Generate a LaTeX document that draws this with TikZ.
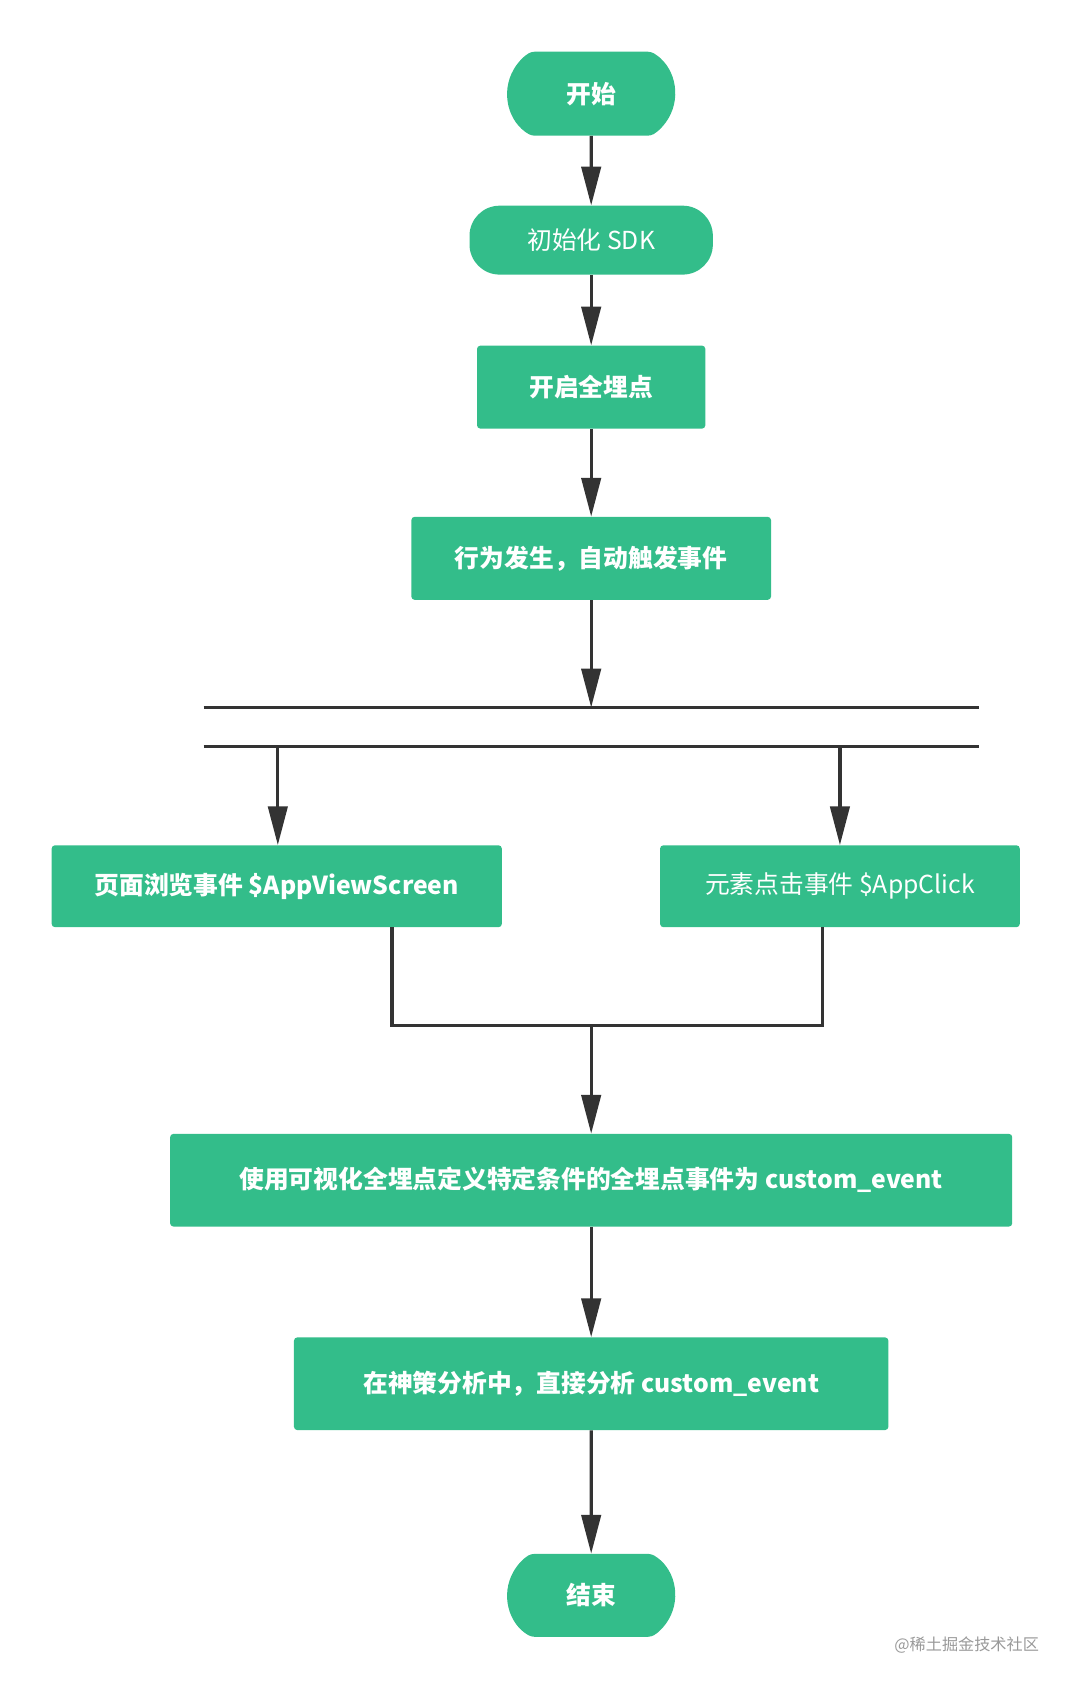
\documentclass[tikz,border=0pt]{standalone}
\usepackage{fontspec}
\setmainfont{Noto Sans CJK SC}
\usetikzlibrary{arrows.meta,shapes.misc}
\definecolor{gr}{HTML}{33BD8A}
\definecolor{ln}{HTML}{333333}
\begin{document}
\begin{tikzpicture}[x=1pt,y=-1pt,
 box/.style={fill=gr,draw=none,text=white,inner sep=0pt,font=\fontsize{23}{28}\selectfont,rounded corners=3pt},
 term/.style={box,rounded rectangle,rounded rectangle arc length=120},
 arr/.style={draw=ln,line width=3pt,-{Triangle[length=36pt,width=18pt]}},
 ln/.style={draw=ln,line width=3pt}]
\useasboundingbox (0,0) rectangle (1000,1575);
\node[term,minimum width=156,minimum height=78] (start) at (549,87) {\bfseries 开始};
\node[box,rounded corners=28pt,minimum width=226,minimum height=64] (init) at (549,223) {初始化 SDK};
\node[box,minimum width=212,minimum height=77] (open) at (549,359.5) {\bfseries 开启全埋点};
\node[box,minimum width=334,minimum height=77] (act) at (549,518.5) {\bfseries 行为发生，自动触发事件};
\coordinate (b1l) at (189,657); \coordinate (b1r) at (909,657);
\coordinate (b2l) at (189,693); \coordinate (b2r) at (909,693);
\coordinate (b1) at (549,657);
\node[box,minimum width=418,minimum height=76] (pv) at (257,823) {\bfseries 页面浏览事件 \$AppViewScreen};
\node[box,minimum width=334,minimum height=76] (cl) at (780,823) {元素点击事件 \$AppClick};
\coordinate (pa) at (258,693); \coordinate (ca) at (780,693);
\coordinate (pd) at (364,861); \coordinate (cd) at (764,861);
\coordinate (m) at (549,952);
\node[box,minimum width=782,minimum height=86] (use) at (549,1096) {\bfseries 使用可视化全埋点定义特定条件的全埋点事件为 custom\_event};
\node[box,minimum width=552,minimum height=86] (ana) at (549,1285) {\bfseries 在神策分析中，直接分析 custom\_event};
\node[term,minimum width=156,minimum height=77] (end) at (549,1481.5) {\bfseries 结束};
\node[anchor=east,text=gray!80,font=\fontsize{15}{18}\selectfont,inner sep=0pt] (wm) at (965,1528) {@稀土掘金技术社区};
\draw[arr] (start) -- (init);
\draw[arr] (init) -- (open);
\draw[arr] (open) -- (act);
\draw[arr] (act) -- (b1);
\draw[ln] (b1l) -- (b1r);
\draw[ln] (b2l) -- (b2r);
\draw[arr] (pa) -- (pv.north -| pa);
\draw[arr] (ca) -- (cl.north -| ca);
\draw[ln] (pd) |- (m) -| (cd);
\draw[arr] (m) -- (use);
\draw[arr] (use) -- (ana);
\draw[arr] (ana) -- (end);
\end{tikzpicture}
\end{document}
